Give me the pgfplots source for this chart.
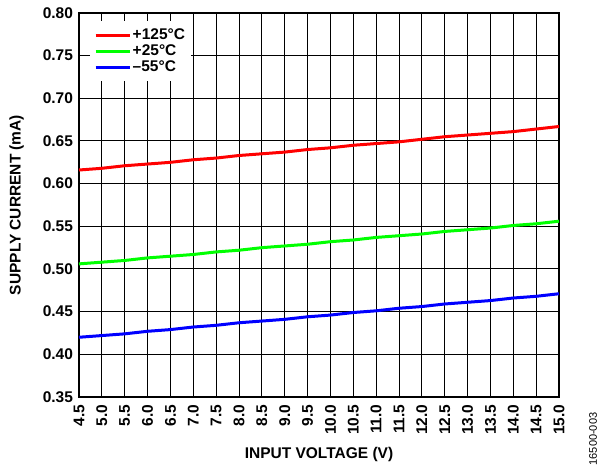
\documentclass[border=0pt]{standalone}
\usepackage{fontspec}
\setmainfont{Liberation Sans}
\usepackage{pgfplots}
\pgfplotsset{compat=1.18}
\begin{document}
\begin{tikzpicture}[x=1pt,y=1pt]
\path[use as bounding box] (-79pt,-71pt) rectangle (521pt,397pt);
\begin{axis}[
  at={(0pt,0pt)}, anchor=south west,
  scale only axis, width=480pt, height=384pt,
  xmin=4.5, xmax=15, ymin=0.35, ymax=0.80,
  xtick={4.5,5.0,5.5,6.0,6.5,7.0,7.5,8.0,8.5,9.0,9.5,10.0,10.5,11.0,11.5,12.0,12.5,13.0,13.5,14.0,14.5,15.0},
  ytick={0.35,0.40,0.45,0.50,0.55,0.60,0.65,0.70,0.75,0.80},
  xticklabel style={/pgf/number format/fixed,/pgf/number format/fixed zerofill,/pgf/number format/precision=1,rotate=90,anchor=east,yshift=0pt,xshift=-4pt},
  yticklabel style={/pgf/number format/fixed,/pgf/number format/fixed zerofill,/pgf/number format/precision=2,xshift=-2.5pt},
  /pgf/number format/assume math mode=true,
  tick label style={font=\bfseries\fontsize{15.5}{18}\selectfont},
  major tick length=0pt,
  grid=major,
  major grid style={black, line width=1pt},
  axis line style={black, line width=1.5pt},
  xlabel={INPUT VOLTAGE (V)},
  ylabel={SUPPLY CURRENT (mA)},
  label style={font=\bfseries\fontsize{15.5}{18}\selectfont},
  xlabel style={at={(axis description cs:0.5,-0.151)}, anchor=center},
  ylabel style={at={(axis description cs:-0.130,0.5)}, anchor=center},
  legend style={at={(0.023,0.979)}, anchor=north west, draw=none, fill=white,
    inner xsep=4pt, inner ysep=6pt,
    font=\bfseries\fontsize{15.5}{18}\selectfont,
    nodes={inner sep=1.5pt, text height=11pt, text depth=2pt}},
  legend cell align=left,
  legend image code/.code={\draw[#1] (0pt,0pt) -- (34pt,0pt);},
]
\addplot[red, line width=3pt] coordinates {
(4.5,0.616) (5.0,0.618) (5.5,0.621) (6.0,0.623) (6.5,0.625) (7.0,0.628) (7.5,0.630) (8.0,0.633) (8.5,0.635) (9.0,0.637) (9.5,0.640) (10.0,0.642) (10.5,0.645) (11.0,0.647) (11.5,0.649) (12.0,0.652) (12.5,0.655) (13.0,0.657) (13.5,0.659) (14.0,0.661) (14.5,0.664) (15.0,0.667)};
\addlegendentry{+125°C}
\addplot[color={rgb,255:red,0;green,255;blue,0}, line width=3pt] coordinates {
(4.5,0.506) (5.0,0.508) (5.5,0.510) (6.0,0.513) (6.5,0.515) (7.0,0.517) (7.5,0.520) (8.0,0.522) (8.5,0.525) (9.0,0.527) (9.5,0.529) (10.0,0.532) (10.5,0.534) (11.0,0.537) (11.5,0.539) (12.0,0.541) (12.5,0.544) (13.0,0.546) (13.5,0.548) (14.0,0.551) (14.5,0.553) (15.0,0.556)};
\addlegendentry{+25°C}
\addplot[blue, line width=3pt] coordinates {
(4.5,0.420) (5.0,0.422) (5.5,0.424) (6.0,0.427) (6.5,0.429) (7.0,0.432) (7.5,0.434) (8.0,0.437) (8.5,0.439) (9.0,0.441) (9.5,0.444) (10.0,0.446) (10.5,0.449) (11.0,0.451) (11.5,0.454) (12.0,0.456) (12.5,0.459) (13.0,0.461) (13.5,0.463) (14.0,0.466) (14.5,0.468) (15.0,0.471)};
\addlegendentry{--55°C}
\end{axis}
\node[rotate=90, font=\fontsize{11}{13}\selectfont, anchor=center, inner sep=0pt] at (514pt,-42pt) {16500-003};
\end{tikzpicture}
\end{document}
